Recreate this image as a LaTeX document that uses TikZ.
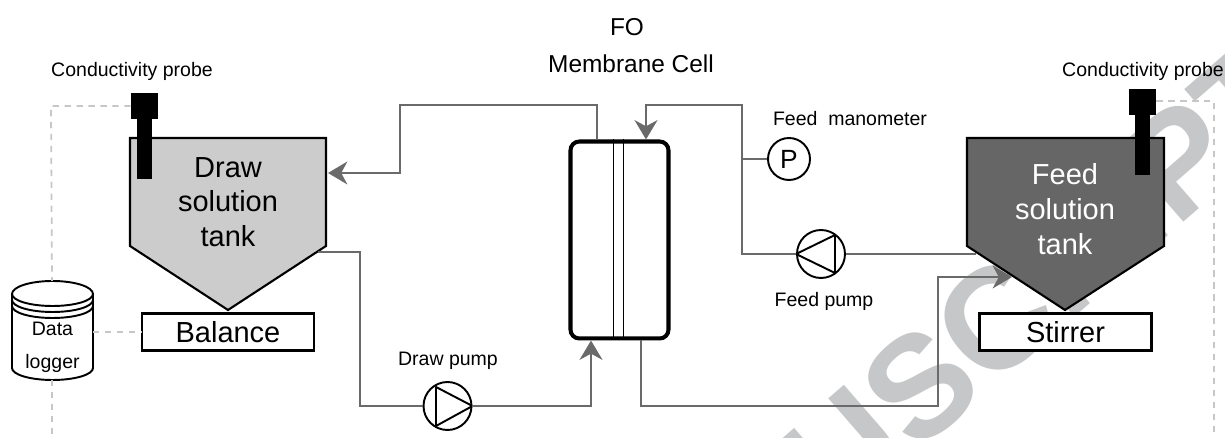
\documentclass[tikz,border=0pt]{standalone}
\usepackage{fontspec}
\setmainfont{Liberation Sans}
\usetikzlibrary{arrows.meta}
\usetikzlibrary{positioning}
\definecolor{pipegray}{HTML}{6A6A6A}
\definecolor{darkfill}{HTML}{666666}
\definecolor{lightfill}{HTML}{CCCCCC}
\definecolor{markgray}{HTML}{C6C7C8}
\tikzstyle{every node}+=[inner sep=0pt]
\tikzstyle{tankline} = [draw=black, line width=1.2pt, line join=miter]
\tikzstyle{tanktext} = [font=\fontsize{16.5}{19.8}\selectfont, align=center]
\tikzstyle{base} = [rectangle, draw=black, fill=white, line width=1.2pt, font=\fontsize{16.5}{18}\selectfont, minimum width=3.44cm, minimum height=0.74cm]
\tikzstyle{caption} = [font=\fontsize{11.1}{13}\selectfont]
\tikzstyle{bigcaption} = [font=\fontsize{13.9}{16}\selectfont]
\tikzstyle{probe} = [fill=black, draw=none]
\tikzstyle{pipe} = [draw=pipegray, line width=1.4pt]
\tikzstyle{pipearrow} = [pipe, -{Stealth[length=11pt,width=13pt,inset=3.5pt]}]
\tikzstyle{signal} = [draw=black!22, line width=1pt, dash pattern=on 3.6pt off 3.2pt]
\tikzstyle{round} = [circle, draw=black, fill=white, line width=1.1pt, minimum size=0.96cm]
\tikzstyle{gauge} = [circle, draw=black, fill=white, line width=1.1pt, minimum size=0.84cm, font=\fontsize{15}{18}\selectfont]

\begin{document}
\begin{tikzpicture}[x=0.02cm, y=-0.02cm]
            \useasboundingbox (0,0) rectangle (1225,438);
            \begin{scope}
            \clip (0,0) rectangle (1225,438);
            % Watermark
            \node [rotate=41, text=markgray, font=\bfseries\fontsize{82}{82}\selectfont] (mark) at (1044,278) {USCRIPT};
            \end{scope}
            % Place tanks
            \path [tankline, fill=lightfill] (130,138) -- (326,138) -- (326,246) -- (228,310) -- (130,246) -- cycle;
            \path [tankline, fill=darkfill] (967,138) -- (1164,138) -- (1164,246) -- (1065,310) -- (967,246) -- cycle;
            \node [tanktext] (drawtank) at (228,202) {Draw\\solution\\tank};
            \node [tanktext, text=white] (feedtank) at (1065,209) {Feed\\solution\\tank};
            \node [base] (balance) at (228,332) {Balance};
            \node [base] (stirrer) at (1065.5,332) {Stirrer};
            % Place cell
            \node [rectangle, draw=black, line width=2.3pt, rounded corners=5pt, minimum width=1.96cm, minimum height=3.94cm] (cell) at (619.5,240) {};
            \draw [line width=1.1pt] (cell.north -| 613.5,0) -- (cell.south -| 613.5,0);
            \draw [line width=1.1pt] (cell.north -| 623.5,0) -- (cell.south -| 623.5,0);
            % Place pumps
            \node [round] (drawpump) at (447.5,406) {};
            \draw [line width=1.1pt, line join=round] (436,387) -- (436,426) -- (drawpump.east) -- cycle;
            \node [round] (feedpump) at (821,254) {};
            \draw [line width=1.1pt, line join=round] (835,235) -- (835,273) -- (feedpump.west) -- cycle;
            \node [gauge] (gauge) at (789,159) {P};
            % Place labels
            \node [bigcaption] (fo) at (627,27) {FO};
            \node [bigcaption, below=0.36cm of fo, xshift=0.08cm] (celllabel) {Membrane Cell};
            \node [caption] (drawpumplabel) at (448,361) {Draw pump};
            \node [caption] (feedpumplabel) at (824,301) {Feed pump};
            \node [caption] (gaugelabel) at (850,119) {Feed\ \ manometer};
            \node [caption] (leftprobelabel) at (132,71) {Conductivity probe};
            \node [caption] (rightprobelabel) at (1143,71) {Conductivity probe};
            % Place probes
            \node [probe, minimum width=0.54cm, minimum height=0.52cm] (leftprobe) at (144.5,106) {};
            \node [probe, minimum width=0.3cm, minimum height=1.2cm, below=-0.02cm of leftprobe] (leftstem) {};
            \node [probe, minimum width=0.54cm, minimum height=0.52cm] (rightprobe) at (1142.5,102) {};
            \node [probe, minimum width=0.3cm, minimum height=1.2cm, below=-0.02cm of rightprobe] (rightstem) {};
            % Place logger
            \draw [line width=1.1pt, fill=white] (12,294) -- (12,368) arc [start angle=180, end angle=360, x radius=40.5, y radius=-12] -- (93,294) arc [start angle=0, end angle=180, x radius=40.5, y radius=-13] -- cycle;
            \draw [line width=1.1pt] (12,294) arc [start angle=180, end angle=360, x radius=40.5, y radius=-12];
            \draw [line width=1.1pt] (12,300) arc [start angle=180, end angle=360, x radius=40.5, y radius=-12];
            \draw [line width=1.1pt] (12,306) arc [start angle=180, end angle=360, x radius=40.5, y radius=-12];
            \node [caption] (logger) at (52.5,329) {Data};
            \node [caption] (loggertwo) at (52.5,363) {logger};
            \coordinate (loggertop) at (52,281);
            \coordinate (loggerbottom) at (52,380);
            \coordinate (loggerright) at (93,332);
            \coordinate (leftcorner) at (51,106);
            \coordinate (rightcorner) at (1214,101);
            \coordinate (leftfree) at (52,436);
            \coordinate (rightfree) at (1214,436);
            % Draw edges
            \path [signal] (leftprobe.west) -- (leftcorner) -- (loggertop);
            \path [signal] (loggerright) -- (balance.west);
            \path [signal] (loggerbottom) -- (leftfree);
            \path [signal] (rightprobe.east |- rightcorner) -- (rightcorner) -- (rightfree);
            \coordinate (drawin) at (328,173);
            \coordinate (drawout) at (318,252);
            \coordinate (feedout) at (976,254);
            \coordinate (feedin) at (1012,277);
            \path [pipearrow] (cell.north -| 597,0) -- (597,105) -- (400,105) -- (400,173) -- (drawin);
            \path [pipe] (drawout) -- (360,252) -- (360,406) -- (drawpump.west);
            \path [pipearrow] (drawpump.east) -- (591,406) -- (cell.south -| 591,0);
            \path [pipearrow] (feedpump.west) -- (742,254) -- (742,105) -- (646,105) -- (cell.north -| 646,0);
            \path [pipe] (742,159) -- (gauge.west);
            \path [pipe] (feedout) -- (feedpump.east);
            \path [pipearrow] (cell.south -| 641,0) -- (641,406) -- (938,406) -- (938,277) -- (feedin);
\end{tikzpicture}
\end{document}
